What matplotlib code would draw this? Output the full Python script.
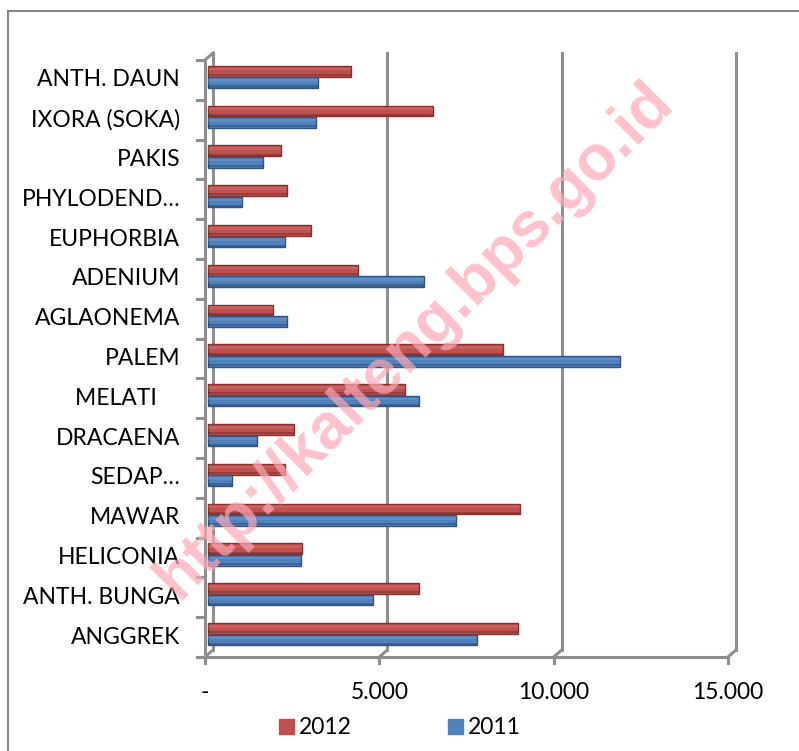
import matplotlib
matplotlib.use("Agg")
import matplotlib.pyplot as plt
import matplotlib.transforms as mtrans
from matplotlib.patches import Rectangle
import numpy as np

categories = ["ANTH. DAUN", "IXORA (SOKA)", "PAKIS", "PHYLODEND…", "EUPHORBIA",
              "ADENIUM", "AGLAONEMA", "PALEM", "MELATI    ", "DRACAENA", "SEDAP…",
              "MAWAR", "HELICONIA", "ANTH. BUNGA", "ANGGREK"]
val_2012 = [4100, 6450, 2100, 2250, 2950, 4300, 1850, 8450, 5650, 2450, 2200, 8950, 2700, 6050, 8900]
val_2011 = [3150, 3100, 1580, 980, 2200, 6200, 2250, 11800, 6050, 1400, 680, 7100, 2650, 4720, 7700]
xticks = [0, 5000, 10000, 15000]
xticklabels = ["-", "5.000", "10.000", "15.000"]
series_names = ["2012", "2011"]

W, H = 799, 751
fig = plt.figure(figsize=(W / 100, H / 100), dpi=100)
FONT = ["Lato", "DejaVu Sans"]
plt.rcParams["font.family"] = FONT

# axes in pixel coords: front plane
x0, x1 = 205, 728
ytop, ybot = 60, 657
ax = fig.add_axes([x0 / W, (H - ybot) / H, (x1 - x0) / W, (ybot - ytop) / H])
ax.set_xlim(0, 15000)
n = len(categories)
ax.set_ylim(n - 0.5, -0.5)
for s in ax.spines.values():
    s.set_visible(False)
ax.set_xticks([])
ax.set_yticks([])
ax.patch.set_alpha(0)

grid_c = "#8f8f8f"
lw = 2.2
back = ax.transData + mtrans.ScaledTranslation(8 / 100, 7 / 100, fig.dpi_scale_trans)
inv = ax.transData.inverted()

# back wall gridlines and floor connectors
for xv in xticks:
    ax.plot([xv, xv], [n - 0.5, -0.5], color=grid_c, lw=lw, transform=back, clip_on=False, zorder=1)
    a = inv.transform(ax.transData.transform((xv, n - 0.5)))
    b = inv.transform(back.transform((xv, n - 0.5)))
    ax.plot([a[0], b[0]], [a[1], b[1]], color=grid_c, lw=lw, clip_on=False, zorder=1)
    ax.plot([xv, xv], [n - 0.5, n - 0.5 + 0.14], color=grid_c, lw=lw, clip_on=False, zorder=1)

# front floor line
ax.plot([0, 15000], [n - 0.5, n - 0.5], color=grid_c, lw=lw, clip_on=False, zorder=1)
# left vertical axis and its top connector
ax.plot([0, 0], [n - 0.5, -0.5], color=grid_c, lw=lw, clip_on=False, zorder=1)
a = inv.transform(ax.transData.transform((0, -0.5)))
b = inv.transform(back.transform((0, -0.5)))
ax.plot([a[0], b[0]], [a[1], b[1]], color=grid_c, lw=lw, clip_on=False, zorder=1)
for k in range(n + 1):
    ax.plot([0, -230], [k - 0.5, k - 0.5], color=grid_c, lw=lw, clip_on=False, zorder=1)

# bars
pos = np.arange(n)
h = 0.27
red, red_e = "#c0504d", "#8a2f2c"
blue, blue_e = "#4f81bd", "#2f5584"
for vals, off, c, ec in [(val_2012, -0.22, red, red_e), (val_2011, 0.07, blue, blue_e)]:
    ax.barh(pos + off, vals, height=h, left=90, color=c, edgecolor=ec, linewidth=1.0, zorder=3)
    ax.barh(pos + off - h * 0.2, vals, height=h * 0.25, left=90, color="white", alpha=0.10,
            linewidth=0, zorder=4)
    ax.barh(pos + off + h * 0.36, vals, height=h * 0.2, left=90, color="black", alpha=0.22,
            linewidth=0, zorder=4)

# category labels
for i, lab in enumerate(categories):
    ax.text(-25 / (x1 - x0) * 15000, i, lab, ha="right", va="center", fontsize=16.5,
            color="black", family=FONT)
# x tick labels
for xv, lab in zip(xticks, xticklabels):
    ax.text(xv, n - 0.5 + 0.9, lab, ha="center", va="center", fontsize=16.5, family=FONT)

# legend
def fx(px): return px / W
def fy(py): return 1 - py / H
fig.patches.append(Rectangle((fx(279), fy(734)), 15 / W, 15 / H, transform=fig.transFigure,
                             color=red, figure=fig))
fig.text(fx(299), fy(727), series_names[0], ha="left", va="center", fontsize=16.5, family=FONT)
fig.patches.append(Rectangle((fx(448), fy(734)), 15 / W, 15 / H, transform=fig.transFigure,
                             color=blue, figure=fig))
fig.text(fx(468), fy(727), series_names[1], ha="left", va="center", fontsize=16.5, family=FONT)

# chart border
fig.patches.append(Rectangle((fx(8), fy(790)), 900 / W, 779 / H, transform=fig.transFigure,
                             fill=False, edgecolor="#868686", linewidth=1.5, figure=fig))

# watermark
fig.text(fx(415), fy(340), "http://kalteng.bps.go.id", rotation=45, ha="center", va="center",
         fontsize=46, fontweight="bold", color="#ffa8b8", alpha=0.7,
         family=["Liberation Sans", "DejaVu Sans"], zorder=10)

fig.savefig("out.png", dpi=100)
